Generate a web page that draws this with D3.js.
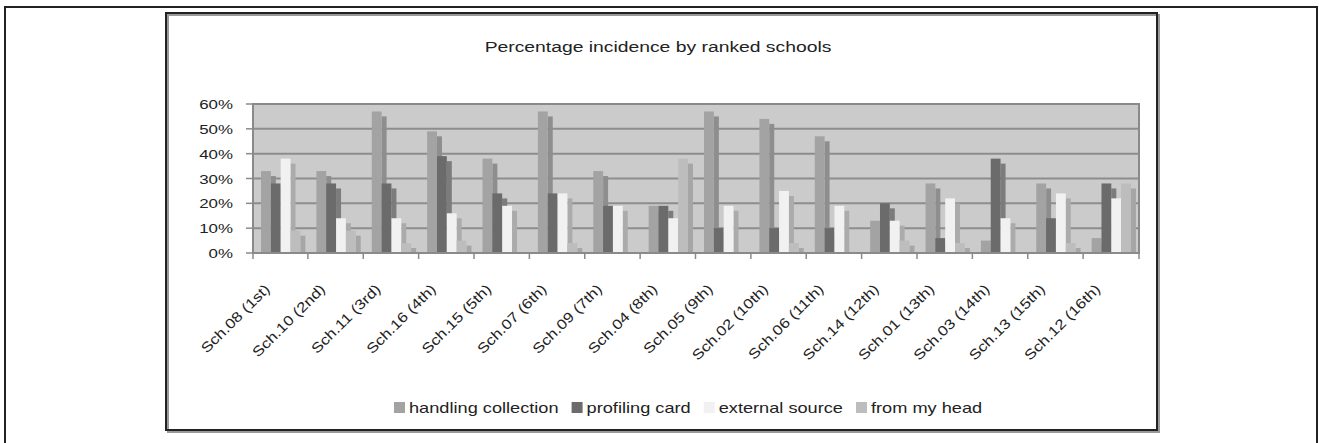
<html lang="en">
<head>
    <meta charset="UTF-8">
    <script type="text/javascript" src="https://cdn.jsdelivr.net/npm/d3@7"></script>
    <title>Percentage incidence by ranked schools</title>
    <style>
        body { margin: 0; background: #fff; }
        text { font-family: "Liberation Sans", Arial, sans-serif; fill: #222; }
    </style>
</head>
<body>
    <script type="text/javascript">

        // data (percent)
        var schools = ["Sch.08 (1st)", "Sch.10 (2nd)", "Sch.11 (3rd)", "Sch.16 (4th)",
            "Sch.15 (5th)", "Sch.07 (6th)", "Sch.09 (7th)", "Sch.04 (8th)",
            "Sch.05 (9th)", "Sch.02 (10th)", "Sch.06 (11th)", "Sch.14 (12th)",
            "Sch.01 (13th)", "Sch.03 (14th)", "Sch.13 (15th)", "Sch.12 (16th)"];
        var seriesNames = ["handling collection", "profiling card", "external source", "from my head"];
        var handling  = [33, 33, 57, 49, 38, 57, 33, 19, 57, 54, 47, 13, 28,  5, 28,  6];
        var profiling = [28, 28, 28, 39, 24, 24, 19, 19, 10, 10, 10, 20,  6, 38, 14, 28];
        var external  = [38, 14, 14, 16, 19, 24, 19, 14, 19, 25, 19, 13, 22, 14, 24, 22];
        var fromHead  = [ 9,  9,  4,  5,  0,  4,  0, 38,  0,  4,  0,  5,  4,  0,  4, 28];
        var yTicks = [0, 10, 20, 30, 40, 50, 60];

        var seriesValues = [handling, profiling, external, fromHead];
        var frontColor = ["#a3a3a3", "#6b6b6b", "#f1f1f1", "#bdbdbd"];
        var sideColor  = ["#8e8e8e", "#7c7c7c", "#ababab", "#a6a6a6"];

        var w = 1319, h = 443;
        var plot = { left: 253, right: 1139, top: 104, bottom: 253 };
        var sx = 1.3; // text in the picture is stretched sideways
        var depth = 5;

        var svg = d3.select("body").append("svg")
            .attr("width", w)
            .attr("height", h);

        // outer and inner frames
        svg.append("rect").attr("x", 5).attr("y", 7).attr("width", 1312).attr("height", 450)
            .attr("fill", "none").attr("stroke", "#222").attr("stroke-width", 2);
        svg.append("rect").attr("x", 168).attr("y", 15).attr("width", 991).attr("height", 417)
            .attr("fill", "none").attr("stroke", "#999").attr("stroke-width", 2);
        svg.append("rect").attr("x", 166).attr("y", 13).attr("width", 991).attr("height", 417)
            .attr("fill", "none").attr("stroke", "#222").attr("stroke-width", 2);

        var x0 = d3.scaleBand()
            .domain(schools)
            .range([plot.left, plot.right])
            .paddingInner(0.29)
            .paddingOuter(0.145);

        var x1 = d3.scaleBand()
            .domain(seriesNames)
            .range([0, x0.bandwidth()]);

        var yScale = d3.scaleLinear()
            .domain([0, 60])
            .range([plot.bottom, plot.top]);

        // plot background
        svg.append("rect")
            .attr("x", plot.left).attr("y", plot.top)
            .attr("width", plot.right - plot.left).attr("height", plot.bottom - plot.top)
            .attr("fill", "#cbcbcb");

        // gridlines
        svg.append("g").selectAll("line")
            .data(yTicks.slice(1))
            .enter().append("line")
            .attr("x1", plot.left).attr("x2", plot.right)
            .attr("y1", function (d) { return yScale(d); })
            .attr("y2", function (d) { return yScale(d); })
            .attr("stroke", "#8d8d8d").attr("stroke-width", 2);

        // bars, series by series so each front covers the previous side face
        var groups = svg.append("g").selectAll("g")
            .data(schools)
            .enter().append("g")
            .attr("transform", function (d) { return "translate(" + x0(d) + ",0)"; });

        seriesNames.forEach(function (s, si) {
            groups.each(function (school, ci) {
                var v = seriesValues[si][ci];
                if (v <= 0) return;
                var g = d3.select(this);
                var bx = x1(s), bw = x1.bandwidth(), by = yScale(v);
                g.append("rect")
                    .attr("x", bx + bw).attr("y", Math.min(by + depth, plot.bottom))
                    .attr("width", depth).attr("height", Math.max(0, plot.bottom - by - depth))
                    .attr("fill", sideColor[si]);
                g.append("rect")
                    .attr("x", bx).attr("y", by)
                    .attr("width", bw).attr("height", plot.bottom - by)
                    .attr("fill", frontColor[si]);
            });
        });

        // plot edges
        svg.append("rect")
            .attr("x", plot.left).attr("y", plot.top)
            .attr("width", plot.right - plot.left).attr("height", plot.bottom - plot.top)
            .attr("fill", "none").attr("stroke", "#8a8a8a").attr("stroke-width", 2);

        // y axis ticks and labels
        var yAxis = svg.append("g");
        yAxis.selectAll("line")
            .data(yTicks)
            .enter().append("line")
            .attr("x1", plot.left - 7).attr("x2", plot.left)
            .attr("y1", function (d) { return yScale(d); })
            .attr("y2", function (d) { return yScale(d); })
            .attr("stroke", "#8a8a8a").attr("stroke-width", 1.5);
        yAxis.selectAll("text")
            .data(yTicks)
            .enter().append("text")
            .attr("transform", function (d) {
                return "translate(" + (plot.left - 20) + "," + (yScale(d) + 5) + ") scale(" + sx + ",1)";
            })
            .attr("text-anchor", "end")
            .attr("font-size", "13px")
            .text(function (d) { return d + "%"; });

        // x axis ticks at category boundaries
        var bounds = schools.map(function (d) { return x0(d) - x0.step() * x0.paddingInner() / 2 - 0.5; });
        bounds[0] = plot.left;
        bounds.push(plot.right);
        svg.append("g").selectAll("line")
            .data(bounds)
            .enter().append("line")
            .attr("x1", function (d) { return d; }).attr("x2", function (d) { return d; })
            .attr("y1", plot.bottom).attr("y2", plot.bottom + 6)
            .attr("stroke", "#8a8a8a").attr("stroke-width", 1.5);

        // rotated category labels
        svg.append("g").selectAll("text")
            .data(schools)
            .enter().append("text")
            .attr("transform", function (d) {
                var cx = x0(d) + x0.bandwidth() / 2 - 10;
                return "translate(" + cx + "," + (plot.bottom + 37) + ") rotate(-45) scale(1.2,1)";
            })
            .attr("text-anchor", "end")
            .attr("font-size", "14px")
            .text(function (d) { return d; });

        // title
        svg.append("text")
            .attr("transform", "translate(658,52) scale(1.38,1)")
            .attr("text-anchor", "middle")
            .attr("font-size", "14px")
            .text("Percentage incidence by ranked schools");

        // legend
        var legend = svg.append("g");
        var lx = 394;
        seriesNames.forEach(function (s, i) {
            legend.append("rect")
                .attr("x", lx).attr("y", 402)
                .attr("width", 11).attr("height", 11)
                .attr("fill", frontColor[i]);
            var t = legend.append("text")
                .attr("transform", "translate(" + (lx + 15) + ",413) scale(" + sx + ",1)")
                .attr("font-size", "14px")
                .text(s);
            lx += 15 + t.node().getComputedTextLength() * sx + 13;
        });
    </script>
</body>
</html>
